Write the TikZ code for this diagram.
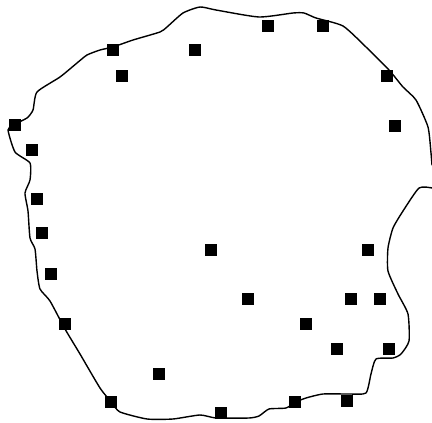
\documentclass[tikz,border=0pt]{standalone}
\begin{document}
\begin{tikzpicture}[x=1pt,y=-1pt,
  sq/.style={rectangle,fill=black,minimum size=12pt,inner sep=0pt,outer sep=0pt},
  outline/.style={line width=1.4pt,line join=round,line cap=round}]
\useasboundingbox (0,0) rectangle (432,423);
\draw[outline] plot[smooth,tension=0.35] coordinates {
(432,188) (419,188) (403,211) (393,228) (388,248) (388,271) (398,294) (408,314) (409,341) (401,354) (393,358) (376,359) (371,374) (366,393) (349,394) (323,394) (306,398) (296,402) (286,408) (269,409) (259,416) (249,418) (216,418) (200,415) (173,419) (147,419) (120,412) (112,403) (100,388) (80,354) (65,329) (50,301) (40,289) (37,271) (35,249) (30,238) (28,211) (25,193) (30,180) (30,163) (15,152) (8,130) (13,125) (27,118) (33,110) (37,92) (60,77) (77,63) (87,55) (100,50) (113,47) (133,40) (160,32) (167,27) (183,13) (200,7) (216,10) (259,17) (293,13) (304,13) (316,18) (343,26) (366,47) (389,70) (403,87) (416,100) (428,127) (431,153) (432,165)};
\node[sq] (s1) at (113,50) {};
\node[sq] (s2) at (195,50) {};
\node[sq] (s3) at (268,26) {};
\node[sq] (s4) at (323,26) {};
\node[sq] (s5) at (387,76) {};
\node[sq] (s6) at (395,126) {};
\node[sq] (s7) at (122,76) {};
\node[sq] (s8) at (15,125) {};
\node[sq] (s9) at (32,150) {};
\node[sq] (s10) at (37,199) {};
\node[sq] (s11) at (42,233) {};
\node[sq] (s12) at (51,274) {};
\node[sq] (s13) at (65,324) {};
\node[sq] (s14) at (111,402) {};
\node[sq] (s15) at (159,374) {};
\node[sq] (s16) at (211,250) {};
\node[sq] (s17) at (221,413) {};
\node[sq] (s18) at (248,299) {};
\node[sq] (s19) at (295,402) {};
\node[sq] (s20) at (347,401) {};
\node[sq] (s21) at (368,250) {};
\node[sq] (s22) at (351,299) {};
\node[sq] (s23) at (380,299) {};
\node[sq] (s24) at (306,324) {};
\node[sq] (s25) at (337,349) {};
\node[sq] (s26) at (389,349) {};
\end{tikzpicture}
\end{document}
